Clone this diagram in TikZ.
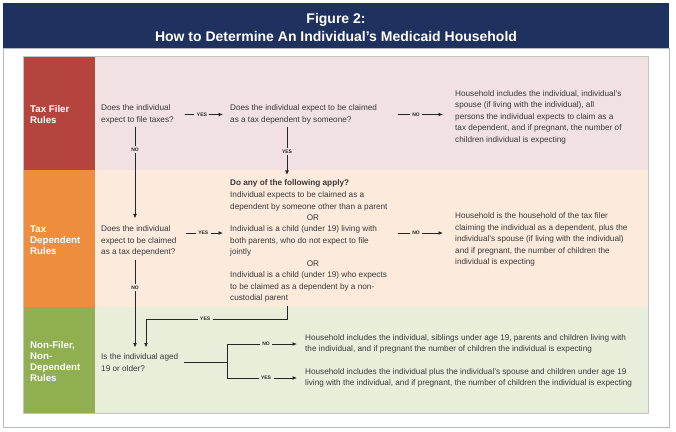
\documentclass[tikz,border=0pt]{standalone}
\usepackage{fontspec}
\setmainfont{Liberation Sans}
\usetikzlibrary{arrows.meta,calc}
\definecolor{navy}{HTML}{1F315F}
\definecolor{redl}{HTML}{B5443E}
\definecolor{pinkbg}{HTML}{F2E1E2}
\definecolor{orangel}{HTML}{EF8D3F}
\definecolor{orangebg}{HTML}{FCEBDD}
\definecolor{greenl}{HTML}{8FAF50}
\definecolor{greenbg}{HTML}{E9EEDB}
\definecolor{framegray}{HTML}{B4B8C4}
\definecolor{panelgray}{HTML}{C4C4C4}
\definecolor{txtgray}{HTML}{383838}
\definecolor{linegray}{HTML}{262626}
\begin{document}
\begin{tikzpicture}[x=1pt,y=-1pt,
  txt/.style={anchor=west, align=left, inner sep=0pt, font=\fontsize{8.2}{11.5}\selectfont, text=txtgray},
  hd/.style={anchor=west, align=left, inner sep=0pt, font=\fontsize{9.7}{11}\selectfont\bfseries, text=white},
  ttl/.style={inner sep=0pt, font=\fontsize{14}{16}\selectfont\bfseries, text=white},
  lbl/.style={font=\fontsize{5}{6}\selectfont\bfseries, text=linegray, inner xsep=2.5pt, inner ysep=1.5pt},
  conn/.style={draw=linegray, line width=0.8pt},
  arr/.style={conn, -{Latex[length=4.5pt,width=3.8pt]}},
]
\useasboundingbox (0,0) rectangle (676,431);
% frame and title band
\fill[white] (0,0) rectangle (676,431);
\draw[framegray, line width=0.8pt] (3,48) rectangle (669,427);
\fill[navy] (3,3) rectangle (669,48);
% rows
\fill[pinkbg] (95,56) rectangle (648,170);
\fill[orangebg] (95,170) rectangle (648,307);
\fill[greenbg] (95,307) rectangle (648,413);
\fill[redl] (23,56) rectangle (95,170);
\fill[orangel] (23,170) rectangle (95,307);
\fill[greenl] (23,307) rectangle (95,413);
\draw[panelgray, line width=0.6pt] (23,56) rectangle (648,413);

% title
\node[ttl] (t1) at (336,20) {Figure 2:};
\node[ttl] (t2) at (336,36) {How to Determine An Individual’s Medicaid Household};

% row labels
\node[hd] (l1) at (30,115) {Tax Filer\\Rules};
\node[hd] (l2) at (30,240) {Tax\\Dependent\\Rules};
\node[hd] (l3) at (30,362) {Non-Filer,\\Non-\\Dependent\\Rules};

% row 1
\node[txt] (q1) at (101,114.5) {Does the individual\\expect to file taxes?};
\node[txt] (q2) at (230,114.5) {Does the individual expect to be claimed\\as a tax dependent by someone?};
\node[txt] (r1) at (455,117) {Household includes the individual, individual’s\\spouse (if living with the individual), all\\persons the individual expects to claim as a\\tax dependent, and if pregnant, the number of\\children individual is expecting};

% row 2
\node[txt, font=\fontsize{8.2}{11.5}\selectfont\bfseries] (head) at (230,183) {Do any of the following apply?};
\node[txt] (o1) at (230,201.5) {Individual expects to be claimed as a\\dependent by someone other than a parent};
\node[txt, anchor=center] (or1) at (313,218) {OR};
\node[txt] (o2) at (230,241) {Individual is a child (under 19) living with\\both parents, who do not expect to file\\jointly};
\node[txt, anchor=center] (or2) at (313,264) {OR};
\node[txt] (o3) at (230,287) {Individual is a child (under 19) who expects\\to be claimed as a dependent by a non-\\custodial parent};
\node[txt] (q3) at (101,241) {Does the individual\\expect to be claimed\\as a tax dependent?};
\node[txt] (r2) at (455,239.5) {Household is the household of the tax filer\\claiming the individual as a dependent, plus the\\individual’s spouse (if living with the individual)\\and if pregnant, the number of children the\\individual is expecting};

% row 3
\node[txt] (q4) at (101,362.5) {Is the individual aged\\19 or older?};
\node[txt] (r3) at (305,344) {Household includes the individual, siblings under age 19, parents and children living with\\the individual, and if pregnant the number of children the individual is expecting};
\node[txt] (r4) at (305,378) {Household includes the individual plus the individual’s spouse and children under age 19\\living with the individual, and if pregnant, the number of children the individual is expecting};

% helper coordinates
\coordinate (cx) at (135,0);
\coordinate (cy) at (287,0);
\coordinate (cz) at (146,0);
\coordinate (bx) at (227,0);
\coordinate (yl) at (0,319);

% connectors row 1
\draw[arr, shorten <=11pt, shorten >=7pt] (q1.east) -- node[lbl, fill=pinkbg]{YES} (q1.east -| q2.west);
\draw[arr, shorten <=21pt, shorten >=12pt] (q2.east) -- node[lbl, fill=pinkbg]{NO} (q2.east -| r1.west);
\draw[arr, shorten <=3pt, shorten >=7pt] (q1.south -| cx) -- node[lbl, fill=pinkbg, pos=0.25]{NO} (q3.north -| cx);
\draw[arr, shorten <=3pt, shorten >=4pt] (q2.south -| cy) -- node[lbl, fill=pinkbg, pos=0.5]{YES} (head.north -| cy);

% connectors row 2
\draw[arr, shorten <=9pt, shorten >=7pt] ([yshift=8pt]q3.east) -- node[lbl, fill=orangebg]{YES} ([yshift=8pt]q3.east -| o2.west);
\draw[arr, shorten <=21pt, shorten >=12pt] ([yshift=8pt]o2.east) -- node[lbl, fill=orangebg]{NO} ([yshift=8pt]o2.east -| r2.west);
\draw[arr, shorten <=3pt, shorten >=6pt] (q3.south -| cx) -- node[lbl, fill=orangebg, pos=0.32]{NO} (q4.north -| cx);
\draw[arr, shorten <=3pt, shorten >=6pt] (o3.south -| cy) -- (cy |- yl) -- node[lbl, fill=greenbg, pos=0.58]{YES} (cz |- yl) -- (q4.north -| cz);

% connectors row 3
\draw[conn, shorten <=6pt] (q4.east) -- (bx |- q4.east);
\draw[arr, shorten >=8pt] (bx |- q4.east) |- node[lbl, fill=greenbg, pos=0.75]{NO} (r3.west);
\draw[arr, shorten >=8pt] (bx |- q4.east) |- node[lbl, fill=greenbg, pos=0.75]{YES} (r4.west);
\end{tikzpicture}
\end{document}
